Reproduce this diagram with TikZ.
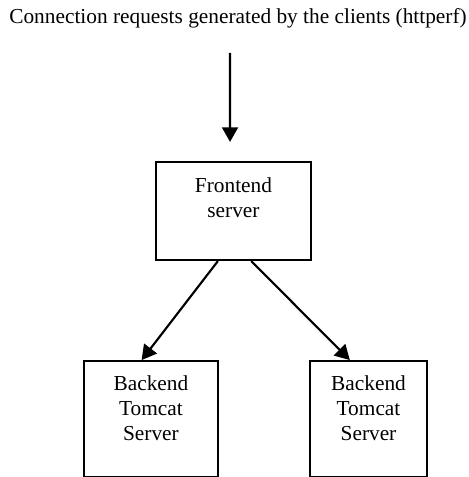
\documentclass[tikz,border=0pt]{standalone}
\usepackage{fontspec}
\setmainfont{Liberation Serif}
\usepackage{tikz}
\usetikzlibrary{positioning,arrows.meta}

\begin{document}
\begin{tikzpicture}[
  x=0.75pt, y=-0.75pt,
  node distance=74.25pt,
  font=\fontsize{16}{18.75}\selectfont,
  box/.style={draw, line width=1.6pt, align=center, inner xsep=0pt, inner ysep=0pt},
  arr/.style={-{Triangle[length=11pt,width=12pt]}, line width=1.6pt}
]
\useasboundingbox (0,0) rectangle (468,477);

\node[anchor=base, inner sep=0pt] (title) at (238,24) {Connection requests generated by the clients (httperf)};
\node[box, minimum width=116.25pt, text height=41.8pt, text depth=31.7pt] (front) at (233.5,211) {Frontend\\server};
\node[box, minimum width=100.5pt, text height=59.8pt, text depth=27.2pt, below=of front, xshift=-61.9pt] (back1) {Backend\\Tomcat\\Server};
\node[box, minimum width=87.75pt, text height=59.8pt, text depth=27.2pt, below=of front, xshift=101.25pt] (back2) {Backend\\Tomcat\\Server};

\draw[arr] ([xshift=-6pt, yshift=-18pt]title.south) -- ([xshift=-2.6pt, yshift=14.25pt]front.north);
\draw[arr] ([xshift=-11.7pt]front.south) -- ([xshift=-7pt]back1.north);
\draw[arr] ([xshift=13.3pt]front.south) -- ([xshift=-14pt]back2.north);
\end{tikzpicture}
\end{document}
